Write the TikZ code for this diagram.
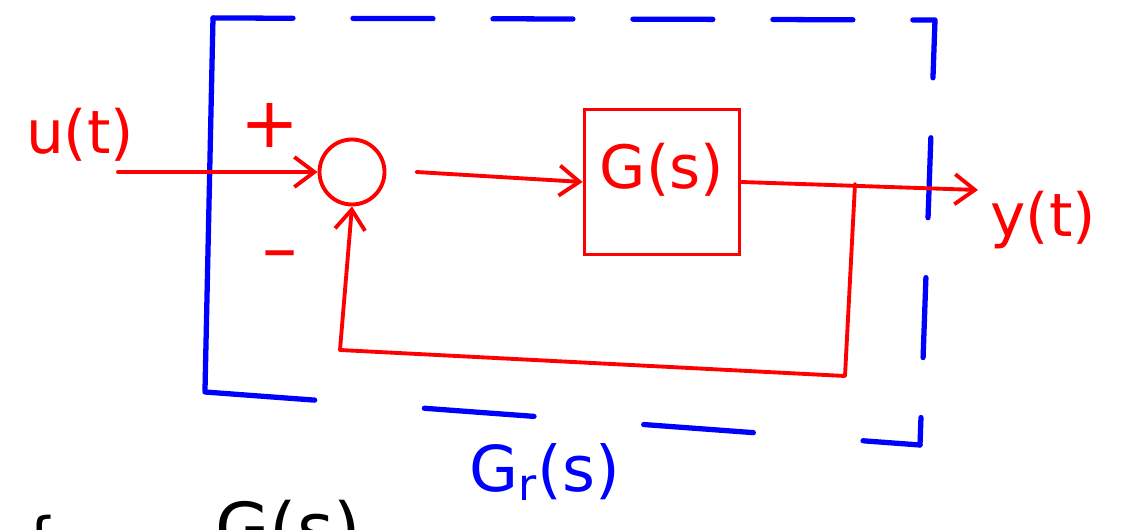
\documentclass[tikz,border=0pt]{standalone}
\usepackage{fontspec}
\setsansfont{DejaVu Sans}
\usetikzlibrary{arrows.meta,positioning}
\definecolor{sigred}{RGB}{255,0,0}
\definecolor{penblue}{RGB}{0,0,255}

\begin{document}
\begin{tikzpicture}[
    x=0.02cm, y=-0.02cm,
    sig/.style={draw=sigred, line width=2.2pt, line cap=round, line join=round},
    sigarrow/.style={sig, -{Straight Barb[length=4mm,width=6mm,line width=2.2pt]}},
    frame/.style={draw=penblue, line width=3pt, line cap=round, line join=round},
    redtext/.style={text=sigred, font=\sffamily\fontsize{34}{34}\selectfont, inner sep=0pt},
    summer/.style={circle, draw=sigred, line width=2.2pt, minimum size=1.3cm, inner sep=0pt},
    plant/.style={rectangle, draw=sigred, line width=2.2pt, minimum width=3.1cm, minimum height=2.9cm, inner sep=0pt}
]
\useasboundingbox (0,0) rectangle (1142,530);

% Blue frame of the closed loop
\draw[frame] (213,18) -- (205,390);
\draw[frame, dash pattern=on 1.6cm off 1.2cm] (213,18) -- (935,20) -- (920,445);
\draw[frame, dash pattern=on 2.2cm off 2.2cm] (205,392) -- (920,445);

% Blocks
\node[summer] (sum) at (352,172) {};
\node[plant] (G) at (662,182) {};
\node[redtext] (Glabel) at (662,170) {G(s)};

% Signals
\coordinate (uin) at (118,172);
\coordinate (tap) at (855,184);
\coordinate (yout) at (978,190);
\node[redtext, anchor=west] (yt) at (990,220) {y(t)};
\node[redtext] (ut) at (80,135) {u(t)};
\node[redtext, font=\sffamily\fontsize{40}{40}\selectfont] (plus) at (270,125) {+};
\node[redtext, font=\sffamily\fontsize{40}{40}\selectfont] (minus) at (280,262) {--};

\draw[sigarrow] (uin) -- (sum.west);
\draw[sigarrow] ([xshift=0.6cm]sum.east) -- (G.west);
\draw[sigarrow] (G.east) -- (yout);
\draw[sigarrow] (tap) -- (845,376) -- (340,350) -- (sum.south);

% Closed-loop label
\node[text=penblue, font=\sffamily\fontsize{36}{36}\selectfont] (Gr) at (545,472) {G$_{\mathsf{r}}$(s)};

% Cut-off text at the bottom
\node[font=\sffamily\fontsize{40}{40}\selectfont, anchor=north west, inner sep=0pt] (Gbot) at (215,500) {G(s)};
\node[font=\sffamily\fontsize{34}{34}\selectfont, anchor=north, inner sep=0pt] (brace) at (40,515) {\{};

\end{tikzpicture}
\end{document}
